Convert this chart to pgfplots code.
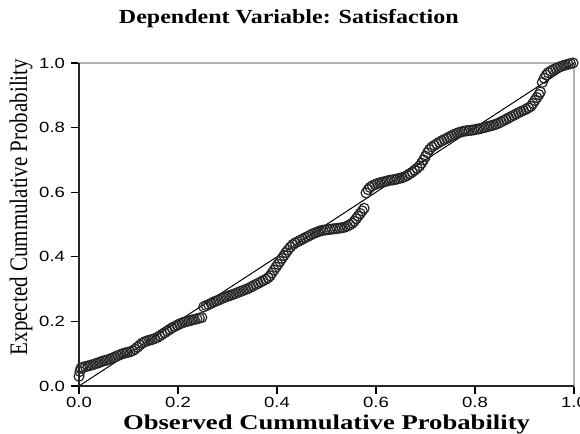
\documentclass[border=0pt]{standalone}
\usepackage{fontspec}
\setmainfont{Liberation Serif}
\newfontfamily\arialfont{Liberation Sans}
\usepackage{graphicx}
\usepackage{pgfplots}
\pgfplotsset{compat=1.18}
\usepackage{pgfplotstable}

\pgfplotstableread{
x y
0.000 0.030
0.002 0.045
0.004 0.055
0.008 0.058
0.013 0.060
0.018 0.062
0.023 0.064
0.028 0.066
0.033 0.069
0.038 0.071
0.043 0.074
0.048 0.077
0.053 0.079
0.058 0.081
0.063 0.084
0.068 0.087
0.073 0.090
0.078 0.094
0.083 0.097
0.088 0.100
0.093 0.102
0.098 0.104
0.103 0.106
0.108 0.109
0.113 0.114
0.118 0.120
0.123 0.127
0.128 0.133
0.133 0.137
0.138 0.140
0.143 0.142
0.148 0.144
0.153 0.147
0.158 0.150
0.163 0.155
0.168 0.160
0.173 0.165
0.178 0.170
0.183 0.175
0.188 0.180
0.193 0.184
0.198 0.188
0.203 0.192
0.208 0.195
0.213 0.198
0.218 0.200
0.223 0.202
0.228 0.204
0.233 0.206
0.238 0.208
0.243 0.210
0.248 0.212
0.252 0.245
0.257 0.249
0.262 0.252
0.267 0.256
0.272 0.260
0.277 0.263
0.282 0.266
0.287 0.270
0.292 0.273
0.297 0.276
0.302 0.279
0.307 0.281
0.312 0.284
0.317 0.287
0.322 0.290
0.327 0.293
0.332 0.296
0.337 0.299
0.342 0.302
0.347 0.306
0.352 0.310
0.357 0.314
0.362 0.318
0.367 0.322
0.372 0.326
0.377 0.330
0.382 0.335
0.386 0.341
0.390 0.350
0.394 0.359
0.398 0.368
0.402 0.377
0.406 0.386
0.410 0.395
0.414 0.404
0.418 0.413
0.422 0.421
0.427 0.430
0.432 0.438
0.437 0.443
0.442 0.447
0.447 0.451
0.452 0.455
0.457 0.459
0.462 0.463
0.467 0.467
0.472 0.471
0.477 0.474
0.482 0.477
0.487 0.480
0.492 0.482
0.497 0.483
0.502 0.484
0.507 0.485
0.512 0.486
0.517 0.487
0.522 0.488
0.527 0.489
0.532 0.490
0.537 0.492
0.542 0.495
0.547 0.499
0.552 0.504
0.556 0.510
0.560 0.518
0.564 0.526
0.568 0.534
0.572 0.542
0.576 0.550
0.580 0.598
0.584 0.608
0.588 0.615
0.593 0.620
0.598 0.624
0.603 0.627
0.608 0.629
0.613 0.631
0.618 0.633
0.623 0.635
0.628 0.637
0.633 0.638
0.638 0.639
0.643 0.641
0.648 0.643
0.653 0.645
0.658 0.648
0.663 0.652
0.668 0.657
0.673 0.662
0.678 0.668
0.683 0.674
0.688 0.681
0.692 0.690
0.696 0.700
0.700 0.711
0.704 0.722
0.708 0.732
0.713 0.740
0.718 0.745
0.723 0.750
0.728 0.755
0.733 0.759
0.738 0.763
0.743 0.767
0.748 0.771
0.753 0.775
0.758 0.779
0.763 0.782
0.768 0.785
0.773 0.787
0.778 0.789
0.783 0.790
0.788 0.791
0.793 0.792
0.798 0.793
0.803 0.795
0.808 0.796
0.813 0.798
0.818 0.800
0.823 0.802
0.828 0.804
0.833 0.806
0.838 0.808
0.843 0.811
0.848 0.814
0.853 0.818
0.858 0.822
0.863 0.826
0.868 0.830
0.873 0.834
0.878 0.838
0.883 0.842
0.888 0.846
0.893 0.850
0.898 0.853
0.903 0.857
0.908 0.861
0.913 0.866
0.917 0.875
0.921 0.884
0.925 0.893
0.929 0.902
0.932 0.910
0.936 0.940
0.940 0.953
0.944 0.963
0.948 0.970
0.953 0.975
0.958 0.979
0.963 0.983
0.968 0.986
0.973 0.989
0.978 0.992
0.983 0.994
0.988 0.996
0.993 0.998
0.998 1.000
}\ppdata

\begin{document}
\begin{tikzpicture}
\useasboundingbox (-39.5pt,-24pt) rectangle (250.5pt,193pt);
\begin{axis}[
    scale only axis,
    width=247.5pt, height=161.5pt,
    at={(0,0)}, anchor=south west,
    xmin=0, xmax=1, ymin=0, ymax=1,
    xtick={0,0.2,0.4,0.6,0.8,1},
    ytick={0,0.2,0.4,0.6,0.8,1},
    tick pos=left,
    tick align=outside,
    major tick length=4pt,
    tick style={black, line width=0.6pt},
    axis line style={draw=gray!60, line width=0.6pt},
    /pgf/number format/assume math mode=true,
    xticklabel style={yshift=2pt},
    yticklabel style={xshift=0.5pt},
    xticklabel={\scalebox{1.25}[1]{\arialfont\fontsize{7.4}{8}\selectfont\pgfmathprintnumber[fixed,fixed zerofill,precision=1]{\tick}}},
    yticklabel={\scalebox{1.25}[1]{\arialfont\fontsize{7.4}{8}\selectfont\pgfmathprintnumber[fixed,fixed zerofill,precision=1]{\tick}}},
    clip=false,
]
\addplot[black, line width=0.5pt, no marks] coordinates {(0,0) (1,1)};
\addplot[only marks, mark=o, mark size=2.5pt, mark options={black!85, line width=0.6pt}] table {\ppdata};

\draw[black!85, line width=1pt] (rel axis cs:0,1) -- (rel axis cs:0,0) -- (rel axis cs:1,0);

\node at (rel axis cs:0.424,1.139) {\scalebox{1.2}[1]{\bfseries\fontsize{10}{12}\selectfont Dependent Variable: Satisfaction}};
\node at (rel axis cs:0.5,-0.119) {\scalebox{1.27}[1]{\bfseries\fontsize{10.5}{12}\selectfont Observed Cummulative Probability}};
\node[rotate=90] at (rel axis cs:-0.117,0.554) {\scalebox{1}[1.2]{\fontsize{10.5}{12}\selectfont Expected Cummulative Probability}};
\end{axis}
\end{tikzpicture}
\end{document}
